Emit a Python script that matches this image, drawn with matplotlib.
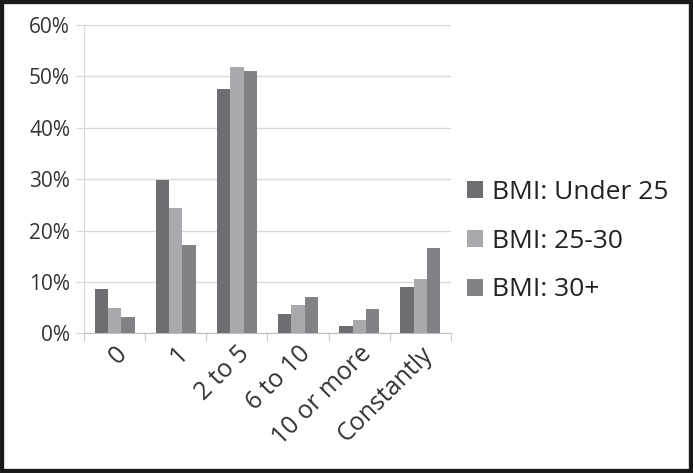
import numpy as np
import matplotlib.pyplot as plt
from matplotlib.patches import Rectangle
from matplotlib.ticker import PercentFormatter

# data
categories = ["0", "1", "2 to 5", "6 to 10", "10 or more", "Constantly"]
series_names = ["BMI: Under 25", "BMI: 25-30", "BMI: 30+"]
under25 = [8.6, 29.8, 47.5, 3.8, 1.4, 9.0]
bmi25_30 = [5.0, 24.3, 51.8, 5.5, 2.6, 10.6]
bmi30 = [3.1, 17.2, 51.0, 7.1, 4.7, 16.6]
colors = ["#6d6e71", "#a7a9ac", "#808285"]

plt.rcParams['font.family'] = ['Open Sans', 'DejaVu Sans']

fig = plt.figure(figsize=(6.93, 4.73), dpi=100)
ax = fig.add_axes([0.1212, 0.2953, 0.5296, 0.6518])

x = np.arange(len(categories))
w = 0.218
for i, (vals, name) in enumerate(zip([under25, bmi25_30, bmi30], series_names)):
    ax.bar(x + (i - 1) * w, vals, width=w, color=colors[i], label=name, zorder=3)

ax.set_xlim(-0.5, len(categories) - 0.5)
ax.set_ylim(0, 60)
ax.set_yticks(np.arange(0, 61, 10))
ax.yaxis.set_major_formatter(PercentFormatter(decimals=0))
ax.grid(axis='y', color='#d9d9d9', linewidth=1, zorder=0)

ax.set_xticks(x)
ax.set_xticklabels(categories, rotation=45, ha='right', rotation_mode='anchor')
ax.set_xticks(np.arange(-0.5, len(categories), 1), minor=True)
ax.tick_params(axis='x', which='major', length=0, pad=6, labelsize=18, labelcolor='#333333')
ax.tick_params(axis='x', which='minor', length=6, color='#bfbfbf', direction='out')
ax.tick_params(axis='y', length=6, color='#d9d9d9', labelsize=15, labelcolor='#333333', pad=4)

for s in ['top', 'right']:
    ax.spines[s].set_visible(False)
ax.spines['left'].set_color('#d9d9d9')
ax.spines['bottom'].set_color('#bfbfbf')

fig.legend(loc='center left', bbox_to_anchor=(0.674, 0.49), frameon=False,
           borderaxespad=0, borderpad=0,
           fontsize=19, handlelength=0.6, handleheight=0.6, handletextpad=0.35,
           labelspacing=0.9, labelcolor='#222222')

# black frame around the image
fig.patches.append(Rectangle((0, 0), 1, 1, transform=fig.transFigure, fill=False,
                             edgecolor='#1a1a1a', linewidth=6))

plt.savefig("out.png", dpi=100)
